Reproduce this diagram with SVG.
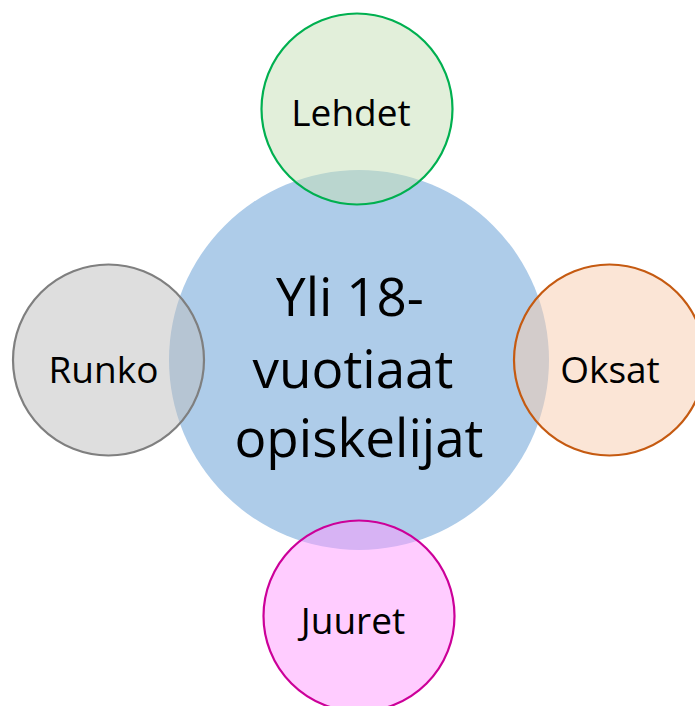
<svg xmlns="http://www.w3.org/2000/svg" width="695" height="706" viewBox="0 0 695 706">
<style>
.lbl{font-family:"Open Sans","Liberation Sans",sans-serif;font-size:37px;fill:#000;text-anchor:middle}
.big{font-family:"Open Sans","Liberation Sans",sans-serif;font-size:53px;fill:#000;text-anchor:middle}
.sat{stroke-width:2.2;fill-opacity:0.5}
</style>
<rect width="695" height="706" fill="#ffffff"/>
<g id="connectors"></g>
<g id="center">
<circle cx="359" cy="360" r="190" fill="#AECCE9"/>
</g>
<g id="lehdet">
<circle class="sat" cx="357" cy="109" r="95.5" fill="#C5DFB5" stroke="#00B050"/>
<text class="lbl" x="351" y="126">Lehdet</text>
</g>
<g id="runko">
<circle class="sat" cx="108.5" cy="360" r="95.5" fill="#BDBDBD" stroke="#7F7F7F"/>
<text class="lbl" x="103.5" y="383">Runko</text>
</g>
<g id="oksat">
<circle class="sat" cx="609.5" cy="360" r="95.5" fill="#F7CBAD" stroke="#C55A11"/>
<text class="lbl" x="610" y="383">Oksat</text>
</g>
<g id="juuret">
<circle class="sat" cx="359" cy="616" r="95.5" fill="#FF99FF" stroke="#CC0099"/>
<text class="lbl" x="353" y="634">Juuret</text>
</g>
<g id="center-label">
<text class="big" x="350" y="316">Yli 18-</text>
<text class="big" x="353" y="388">vuotiaat</text>
<text class="big" x="359" y="457">opiskelijat</text>
</g>
</svg>
